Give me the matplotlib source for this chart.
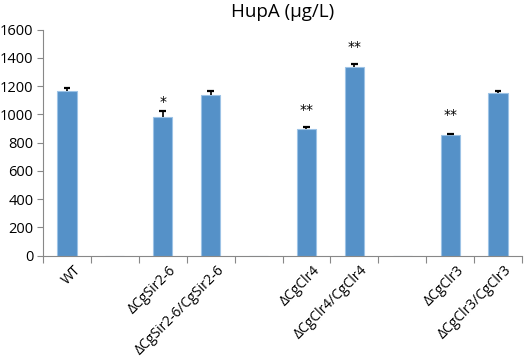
import matplotlib
matplotlib.use("Agg")
import matplotlib.pyplot as plt
import numpy as np

categories = ["WT", "", "ΔCgSir2-6", "ΔCgSir2-6/CgSir2-6", "", "ΔCgClr4", "ΔCgClr4/CgClr4", "", "ΔCgClr3", "ΔCgClr3/CgClr3"]
values = [1165, np.nan, 985, 1139, np.nan, 895, 1338, np.nan, 857, 1150]
errors = [20, 0, 40, 30, 0, 15, 22, 0, 5, 14]
stars = ["", "", "*", "", "", "**", "**", "", "**", ""]
star_y = [0, 0, 1085, 0, 0, 1035, 1480, 0, 995, 0]
yticks = [0, 200, 400, 600, 800, 1000, 1200, 1400, 1600]

plt.rcParams['font.family'] = ['Open Sans', 'DejaVu Sans']
fig = plt.figure(figsize=(5.29, 3.61), dpi=100)
ax = fig.add_axes([43/529, 1-255.7/361, 479/529, 226/361])

x = np.arange(len(categories))
vals = np.array(values, dtype=float)
ax.bar(x, np.nan_to_num(vals), width=0.4, color="#5591C8", edgecolor="#9DC3E6", linewidth=0.8, zorder=2)
mask = ~np.isnan(vals)
errs = np.array(errors, dtype=float)
ax.vlines(x[mask], vals[mask], vals[mask] + errs[mask], color="black", linewidth=1.2, zorder=3)
ax.hlines(vals[mask] + errs[mask], x[mask] - 0.07, x[mask] + 0.07, color="black", linewidth=1.6, zorder=3)
for xi, s, sy in zip(x, stars, star_y):
    if s:
        ax.text(xi, sy, s, ha="center", va="center", fontsize=10, family="DejaVu Sans")

ax.set_xlim(-0.5, len(categories) - 0.5)
ax.set_ylim(0, 1600)
ax.set_yticks(yticks)
ax.set_yticklabels([str(t) for t in yticks], fontsize=10.5)
ax.set_xticks(np.arange(len(categories) + 1) - 0.5)
ax.set_xticklabels([])
for xi, lab in zip(x, categories):
    if lab:
        ax.annotate(lab, (xi, 0), xycoords=("data", "axes fraction"),
                    xytext=(6 * 0.72, -7 * 0.72), textcoords="offset points",
                    rotation=45, ha="right", va="top", rotation_mode="anchor",
                    fontsize=10, annotation_clip=False)
ax.tick_params(axis="x", length=5, color="#888888", direction="out")
ax.tick_params(axis="y", length=4, color="#888888", pad=3)
for s in ["top", "right"]:
    ax.spines[s].set_visible(False)
for s in ["left", "bottom"]:
    ax.spines[s].set_color("#888888")
ax.set_title("HupA (μg/L)", fontsize=13.5, pad=9)

fig.savefig("out.png", dpi=100)
